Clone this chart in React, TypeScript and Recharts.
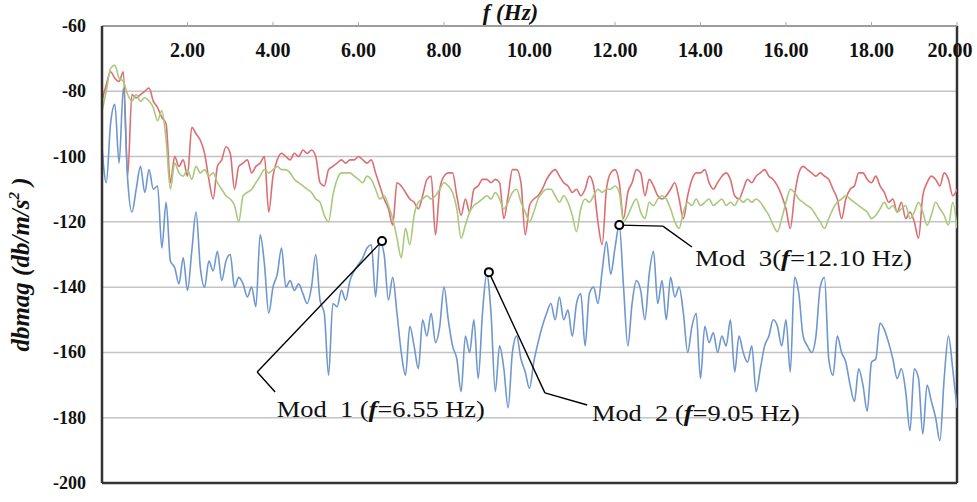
import React from 'react';
import { LineChart, Line, XAxis, YAxis, CartesianGrid, ReferenceLine, ReferenceDot } from 'recharts';

// sampling grid (Hz)
const frequencies: number[] = Array.from({ length: 201 }, (_, i) => Math.round(i * 10) / 100);

const redSeries: number[] = [
  -83, -78, -74, -76, -77, -74, -106, -81, -82, -81,
  -80, -79, -83, -85, -88, -90, -108, -100, -103, -101,
  -106, -91, -93, -95, -99, -107, -113, -103, -101, -97,
  -99, -110, -103, -102, -101, -105, -103, -102, -100, -117,
  -106, -101, -99, -100, -101, -99, -100, -98, -99, -98,
  -100, -108, -109, -104, -103, -102, -101, -102, -101, -101,
  -100, -101, -102, -101, -105, -109, -113, -116, -121, -108,
  -109, -111, -113, -114, -116, -112, -107, -106, -124, -110,
  -106, -105, -105, -112, -118, -113, -117, -110, -109, -107,
  -107, -108, -107, -108, -119, -112, -104, -104, -108, -124,
  -115, -113, -112, -110, -107, -105, -104, -106, -108, -109,
  -111, -110, -112, -110, -106, -109, -120, -127, -110, -105,
  -104, -108, -119, -111, -108, -104, -105, -112, -107, -109,
  -112, -113, -112, -110, -108, -113, -119, -112, -107, -105,
  -105, -104, -108, -110, -108, -106, -105, -107, -112, -113,
  -110, -107, -108, -106, -105, -104, -106, -107, -109, -112,
  -116, -122, -112, -105, -103, -104, -105, -106, -105, -106,
  -107, -110, -113, -119, -113, -110, -109, -105, -105, -107,
  -108, -106, -109, -111, -114, -113, -117, -114, -119, -117,
  -120, -125, -112, -108, -106, -107, -109, -105, -107, -112,
  -110,
];

const greenSeries: number[] = [
  -86, -80, -73, -72, -76, -77, -81, -83, -81, -83,
  -82, -83, -85, -89, -86, -95, -110, -102, -105, -106,
  -104, -107, -103, -105, -104, -106, -105, -108, -110, -112,
  -113, -115, -120, -112, -111, -110, -108, -106, -104, -105,
  -104, -103, -104, -104, -105, -107, -108, -109, -110, -111,
  -113, -114, -118, -120, -112, -107, -105, -105, -105, -106,
  -107, -108, -106, -107, -110, -113, -112, -115, -119, -125,
  -131, -122, -127, -118, -114, -113, -112, -113, -112, -110,
  -108, -109, -111, -116, -125, -121, -117, -115, -114, -113,
  -112, -113, -111, -113, -116, -114, -111, -110, -114, -117,
  -120, -117, -113, -111, -110, -110, -112, -114, -112, -114,
  -118, -123, -116, -113, -114, -112, -110, -111, -110, -110,
  -109, -111, -120, -118, -115, -113, -117, -119, -114, -115,
  -113, -112, -113, -116, -120, -122, -117, -114, -115, -113,
  -115, -114, -113, -115, -114, -113, -115, -114, -115, -113,
  -114, -113, -114, -113, -114, -116, -118, -121, -123, -119,
  -114, -110, -111, -113, -114, -115, -116, -118, -120, -122,
  -119, -116, -114, -113, -112, -113, -114, -115, -116, -117,
  -119, -118, -116, -114, -116, -115, -117, -116, -115, -119,
  -117, -114, -117, -121, -118, -114, -116, -118, -121, -114,
  -122,
];

const blueSeries: number[] = [
  -97, -108, -90, -84, -102, -79, -107, -117, -110, -103,
  -111, -104, -110, -109, -128, -114, -132, -134, -139, -131,
  -141, -129, -117, -134, -140, -132, -135, -129, -138, -132,
  -130, -140, -137, -139, -143, -140, -146, -124, -133, -148,
  -140, -136, -128, -140, -138, -141, -139, -142, -145, -140,
  -130, -144, -148, -167, -145, -146, -141, -144, -138, -135,
  -133, -131, -128, -127, -143, -126, -130, -144, -137, -148,
  -160, -167, -152, -158, -165, -150, -155, -148, -157, -152,
  -140, -150, -158, -162, -172, -155, -160, -150, -168, -148,
  -136, -148, -172, -158, -165, -177, -160, -155, -162, -166,
  -171, -163, -157, -152, -148, -145, -150, -143, -150, -147,
  -155, -145, -142, -158, -142, -140, -145, -135, -126, -136,
  -128, -121, -140, -158, -145, -138, -141, -150, -136, -129,
  -145, -138, -150, -137, -143, -140, -148, -160, -152, -148,
  -168, -152, -157, -154, -160, -155, -158, -150, -166, -155,
  -160, -163, -158, -172, -165, -158, -155, -150, -152, -158,
  -150, -166, -137, -142, -155, -158, -160, -155, -140, -137,
  -162, -167, -155, -160, -163, -170, -175, -165, -170, -178,
  -163, -162, -151, -153, -157, -162, -168, -165, -172, -184,
  -165, -168, -185, -170, -175, -180, -187, -168, -155, -165,
  -177,
];

const xTicks: number[] = [2, 4, 6, 8, 10, 12, 14, 16, 18, 20];
const yTicks: number[] = [-200, -180, -160, -140, -120, -100, -80, -60];

// annotations: peak (circle), leader elbow, leader end, label anchor (data units)
const modeNames: string[] = ['Mod  1 (', 'Mod  2 (', 'Mod  3('];
const modeFreqText: string[] = ['=6.55 Hz)', '=9.05 Hz)', '=12.10 Hz)'];
const modePeaks = [
  { x: 6.55, y: -125.9 },
  { x: 9.05, y: -135.4 },
  { x: 12.1, y: -121.0 },
];
const modeElbows = [
  { x: 3.63, y: -166.0 },
  { x: 10.36, y: -172.4 },
  { x: 13.12, y: -121.3 },
];
const modeEnds = [
  { x: 4.05, y: -172.1 },
  { x: 11.35, y: -176.1 },
  { x: 13.8, y: -127.7 },
];
const modeLabelAt = [
  { x: 4.09, y: -179.8 },
  { x: 11.46, y: -181.0 },
  { x: 13.87, y: -133.5 },
];
const modeLabelWidth: number[] = [208, 208, 217];

const data = frequencies.map((f, i) => ({
  f,
  red: redSeries[i],
  green: greenSeries[i],
  blue: blueSeries[i],
}));

const SERIF = 'Liberation Serif';

const XTick = (props: any) => {
  const { x, y, payload } = props;
  const v = payload.value as number;
  const shift = v === 20 ? -7 : 0;
  return (
    <text
      x={x + shift}
      y={y + 35}
      textAnchor="middle"
      style={{ fontFamily: SERIF, fontWeight: 'bold', fontSize: 20 }}
      fill="#111"
    >
      {v.toFixed(2)}
    </text>
  );
};

const YTick = (props: any) => {
  const { x, y, payload } = props;
  return (
    <text
      x={x}
      y={y}
      dy={6}
      textAnchor="end"
      style={{ fontFamily: SERIF, fontWeight: 'bold', fontSize: 18 }}
      fill="#111"
    >
      {payload.value}
    </text>
  );
};

const YLabel = (props: any) => {
  const vb = props.viewBox || { x: 0, y: 26, width: 102, height: 457 };
  const tx = vb.x + 29;
  const ty = vb.y + vb.height / 2 + 10;
  return (
    <text
      x={tx}
      y={ty}
      transform={`rotate(-90 ${tx} ${ty})`}
      textAnchor="middle"
      style={{ fontFamily: SERIF, fontWeight: 'bold', fontStyle: 'italic', fontSize: 25, whiteSpace: 'pre' }}
      fill="#111"
    >
      dbmag (db/m/s
      <tspan dy={-10} style={{ fontSize: 15 }}>2</tspan>
      <tspan dy={10}> )</tspan>
    </text>
  );
};

const XLabel = (props: any) => {
  const vb = props.viewBox || { x: 102, y: 25, width: 855, height: 1 };
  return (
    <text
      x={vb.x + vb.width / 2 - 19}
      y={20}
      textAnchor="middle"
      style={{ fontFamily: SERIF, fontWeight: 'bold', fontStyle: 'italic', fontSize: 23, whiteSpace: 'pre' }}
      fill="#111"
    >
      f (Hz)
    </text>
  );
};

const ModLabel = (props: any) => {
  const { viewBox, idx } = props;
  const cx = viewBox.x + viewBox.width / 2;
  const cy = viewBox.y + viewBox.height / 2;
  return (
    <text
      x={cx}
      y={cy}
      style={{ fontFamily: SERIF, fontSize: 23, whiteSpace: 'pre' }}
      fill="#111"
      textLength={modeLabelWidth[idx]}
      lengthAdjust="spacingAndGlyphs"
    >
      {modeNames[idx]}
      <tspan style={{ fontWeight: 'bold', fontStyle: 'italic' }}>f</tspan>
      {modeFreqText[idx]}
    </text>
  );
};

export default function App() {
  return (
    <div style={{ position: 'absolute', left: 0, top: 0, width: 977, height: 502, background: '#fff' }}>
      <LineChart
        width={977}
        height={502}
        data={data}
        margin={{ top: 25, right: 20, bottom: 19, left: 0 }}
      >
        <CartesianGrid vertical={false} stroke="#c4c4c4" strokeWidth={1.5} />
        <XAxis
          dataKey="f"
          type="number"
          domain={[0, 20]}
          ticks={xTicks}
          interval={0}
          orientation="top"
          height={1}
          tickSize={4}
          tickMargin={0}
          tick={<XTick />}
          tickLine={{ stroke: '#aaa' }}
          axisLine={{ stroke: '#8a8a8a', strokeWidth: 1.5 }}
          allowDataOverflow
          label={<XLabel />}
        />
        <YAxis
          type="number"
          domain={[-200, -60]}
          ticks={yTicks}
          interval={0}
          width={102}
          tickSize={0}
          tickMargin={16}
          tickLine={false}
          tick={<YTick />}
          axisLine={{ stroke: '#333', strokeWidth: 2.5 }}
          allowDataOverflow
          label={<YLabel />}
        />
        <ReferenceLine y={-200} stroke="#333" strokeWidth={2.5} />
        <ReferenceLine x={20} stroke="#333" strokeWidth={2.5} />
        <Line
          type="monotone"
          dataKey="red"
          stroke="#dc6e73"
          strokeWidth={1.6}
          dot={false}
          isAnimationActive={false}
        />
        <Line
          type="monotone"
          dataKey="green"
          stroke="#a9c97c"
          strokeWidth={1.6}
          dot={false}
          isAnimationActive={false}
        />
        <Line
          type="monotone"
          dataKey="blue"
          stroke="#6f97cf"
          strokeWidth={1.6}
          dot={false}
          isAnimationActive={false}
        />
        {modePeaks.map((p, i) => (
          <ReferenceLine
            key={`l1-${i}`}
            segment={[p, modeElbows[i]]}
            stroke="#000"
            strokeWidth={1.4}
          />
        ))}
        {modePeaks.map((p, i) => (
          <ReferenceLine
            key={`l2-${i}`}
            segment={[modeElbows[i], modeEnds[i]]}
            stroke="#000"
            strokeWidth={1.4}
          />
        ))}
        {modePeaks.map((p, i) => (
          <ReferenceDot
            key={`d-${i}`}
            x={p.x}
            y={p.y}
            r={4}
            fill="#fff"
            stroke="#000"
            strokeWidth={2}
          />
        ))}
        {modeLabelAt.map((p, i) => (
          <ReferenceDot
            key={`t-${i}`}
            x={p.x}
            y={p.y}
            r={0}
            fill="none"
            stroke="none"
            label={<ModLabel idx={i} />}
          />
        ))}
      </LineChart>
    </div>
  );
}
